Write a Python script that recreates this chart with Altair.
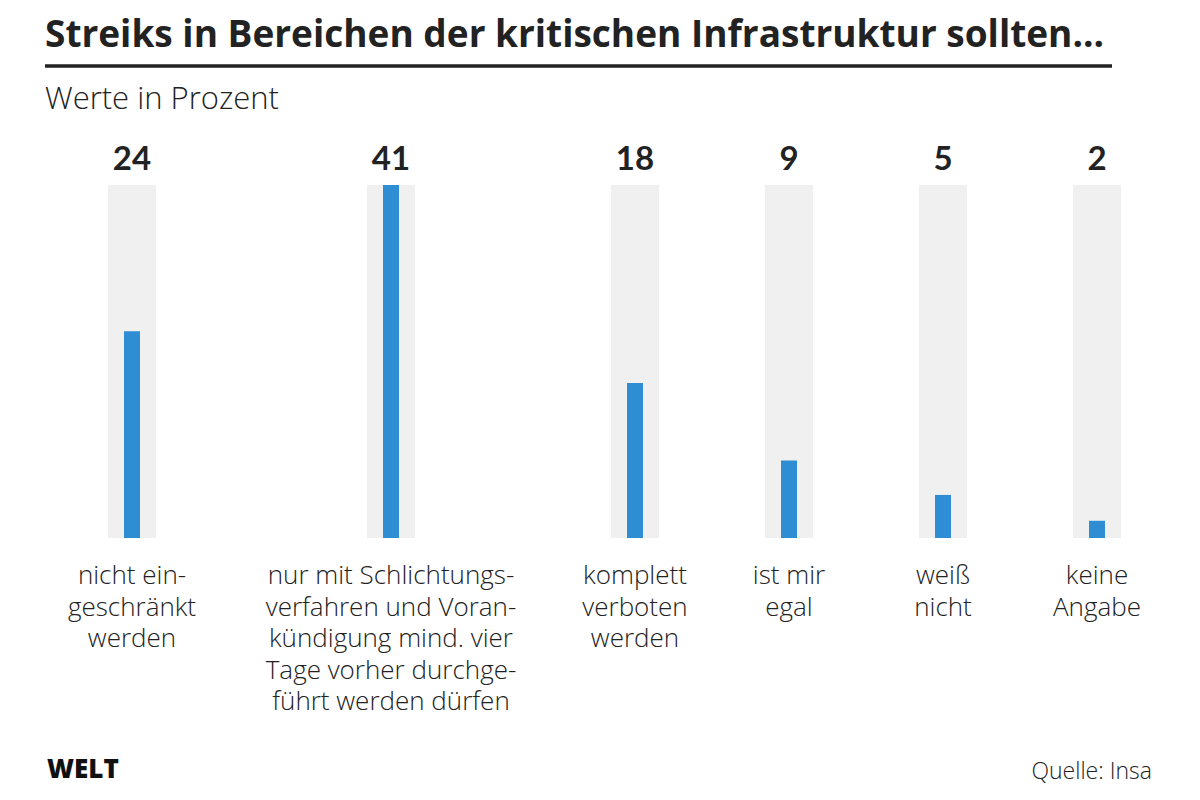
import altair as alt
import pandas as pd

title_text = "Streiks in Bereichen der kritischen Infrastruktur sollten..."
subtitle_text = "Werte in Prozent"
source_text = "Quelle: Insa"
logo_text = "WELT"

categories = [
    "nicht ein-\ngeschränkt\nwerden",
    "nur mit Schlichtungs-\nverfahren und Voran-\nkündigung mind. vier\nTage vorher durchge-\nführt werden dürfen",
    "komplett\nverboten\nwerden",
    "ist mir\negal",
    "weiß\nnicht",
    "keine\nAngabe",
]
values = [24, 41, 18, 9, 5, 2]
panel_widths = [184, 334, 154, 154, 154, 154]

BLUE = "#2f8ed3"
GRAY = "#f0f0f0"
TEXT = "#222222"
FONT_B = "Lato"
FONT_L = "Open Sans"

total_w = sum(panel_widths)
bar_h = 353
head_h = 177

df = pd.DataFrame({"idx": list(range(len(values))), "label": categories, "value": values})

panels = []
for i, w in enumerate(panel_widths):
    base = alt.Chart(df).transform_joinaggregate(
        maxv="max(value)"
    ).transform_filter(alt.datum.idx == i)
    x = alt.X("label:N", axis=None, scale=alt.Scale(paddingInner=0, paddingOuter=0))
    yscale = alt.Scale(domain=[0, max(values)], nice=False, zero=True)
    bg = base.mark_bar(color=GRAY, size=48).encode(
        x=x, y=alt.Y("maxv:Q", axis=None, scale=yscale)
    )
    fg = base.mark_bar(color=BLUE, size=16).encode(
        x=x, y=alt.Y("value:Q", axis=None, scale=yscale)
    )
    val = base.mark_text(
        font=FONT_B, fontSize=33, fontWeight="bold", color=TEXT, baseline="alphabetic"
    ).encode(x=x, y=alt.value(-15), text="value:Q")
    lab = base.mark_text(
        font=FONT_L, fontSize=26, fontWeight=300, color=TEXT, baseline="alphabetic",
        lineBreak="\n", lineHeight=31.5, align="center"
    ).encode(x=x, y=alt.value(bar_h + 46), text="label:N")
    panels.append(alt.layer(bg, fg, val, lab).properties(width=w, height=bar_h))

bars = alt.hconcat(*panels, spacing=0, bounds="flush")

one = pd.DataFrame({"t": [0]})
title = alt.Chart(one).mark_text(
    font=FONT_L, fontSize=37, fontWeight="bold", color=TEXT, align="left", baseline="alphabetic"
).encode(x=alt.value(5), y=alt.value(39), text=alt.value(title_text))
rule = alt.Chart(one).mark_rule(color=TEXT, strokeWidth=3.5).encode(
    x=alt.value(5), x2=alt.value(1072), y=alt.value(58)
)
sub = alt.Chart(one).mark_text(
    font=FONT_L, fontSize=31, fontWeight=300, color=TEXT, align="left", baseline="alphabetic"
).encode(x=alt.value(5), y=alt.value(101), text=alt.value(subtitle_text))
foot_y = head_h + bar_h
logo = alt.Chart(one).mark_text(
    font=FONT_L, fontSize=26, fontWeight=800, color="#111111", align="left", baseline="alphabetic"
).encode(x=alt.value(7), y=alt.value(foot_y + 240), text=alt.value(logo_text))
src = alt.Chart(one).mark_text(
    font=FONT_L, fontSize=23, fontWeight=300, color=TEXT, align="right", baseline="alphabetic"
).encode(x=alt.value(1112), y=alt.value(foot_y + 241), text=alt.value(source_text))
header = alt.layer(title, rule, sub, logo, src).properties(width=total_w, height=head_h)

chart = alt.vconcat(header, bars, spacing=0, bounds="flush").properties(
    padding={"left": 32, "top": 0, "right": 0, "bottom": 12},
    background="white",
).configure_view(stroke=None)

chart.save("out.html", embed_options={"renderer": "svg", "actions": False})
